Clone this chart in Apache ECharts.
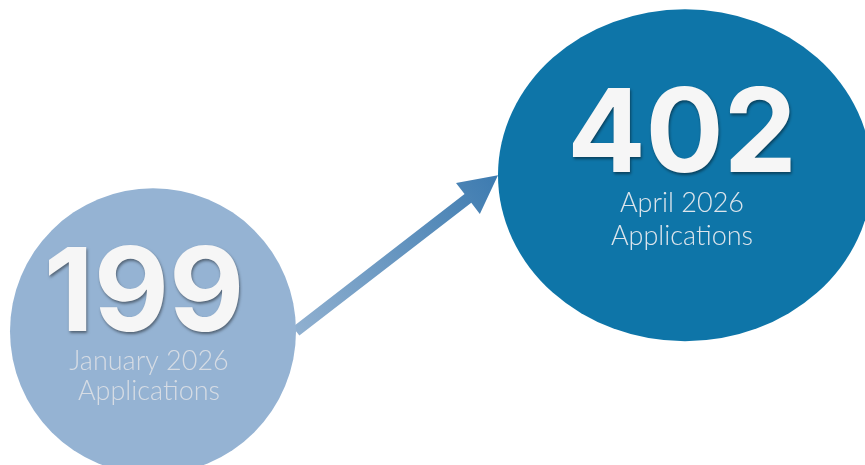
<!DOCTYPE html>
<html>
<head>
<meta charset="utf-8">
<script src="https://cdn.jsdelivr.net/npm/echarts@6/dist/echarts.min.js"></script>
<style>html,body{margin:0;padding:0;background:#fff;}#c{width:865px;height:465px;}</style>
</head>
<body>
<div id="c"></div>
<script>
// ---- data ----
const periods = ['January 2026', 'April 2026'];
const applications = [199, 402];
const caption = 'Applications';

// ---- styles ----
const bubbleSizes = [[286, 286], [374, 332]];
const bubbleColors = ['#95b3d3', '#0e75a8'];
const captionColors = ['#d6dce4', '#dde5ec'];
const labelOffsets = [[-4, -5], [-3, -5]];
const numPadding = [[0, 10, 0, 0], [0, 0, 0, 0]];
const captionLH = [30, 33];

const chart = echarts.init(document.getElementById('c'), null, {renderer: 'canvas'});

const points = applications.map((v, i) => ({
  value: [i, v],
  symbolSize: bubbleSizes[i],
  itemStyle: {color: bubbleColors[i], opacity: 1},
  label: {
    offset: labelOffsets[i],
    rich: {
      num: {
        fontFamily: 'Inter', fontWeight: 'bold', fontSize: 116, lineHeight: 100,
        padding: numPadding[i],
        color: '#f6f6f6',
        textShadowColor: 'rgba(0,0,0,0.45)', textShadowBlur: 3,
        textShadowOffsetX: 1, textShadowOffsetY: 2
      },
      cap: {
        fontFamily: 'Lato', fontWeight: 300, fontSize: 27, lineHeight: captionLH[i],
        color: captionColors[i]
      }
    }
  }
}));

chart.setOption({
  animation: false,
  grid: {left: 153, right: 180, top: 0, bottom: 0},
  xAxis: {type: 'value', min: 0, max: 1, show: false},
  yAxis: {type: 'value', min: 25, max: 630, show: false},
  series: [
    {
      type: 'custom',
      z: 1,
      silent: true,
      data: [[0, applications[0], 1, applications[1]]],
      renderItem: function (params, api) {
        const a = api.coord([api.value(0), api.value(1)]);
        const b = api.coord([api.value(2), api.value(3)]);
        const tail = [a[0] + bubbleSizes[0][0] / 2, a[1]];
        const tip = [b[0] - bubbleSizes[1][0] / 2, b[1]];
        const dx = tip[0] - tail[0], dy = tip[1] - tail[1];
        const len = Math.sqrt(dx * dx + dy * dy);
        const ux = dx / len, uy = dy / len;
        const px = -uy, py = ux;
        const sw = 5.5, hw = 19.5, hl = 38;
        const base = [tip[0] - ux * hl, tip[1] - uy * hl];
        const pts = [
          [tail[0] + px * sw, tail[1] + py * sw],
          [base[0] + px * sw, base[1] + py * sw],
          [base[0] + px * hw, base[1] + py * hw],
          tip,
          [base[0] - px * hw, base[1] - py * hw],
          [base[0] - px * sw, base[1] - py * sw],
          [tail[0] - px * sw, tail[1] - py * sw]
        ];
        return {
          type: 'polygon',
          shape: {points: pts},
          style: {
            fill: {
              type: 'linear', global: true,
              x: tail[0], y: tail[1], x2: tip[0], y2: tip[1],
              colorStops: [{offset: 0, color: '#90b0d0'}, {offset: 1, color: '#3d7bb0'}]
            }
          }
        };
      }
    },
    {
      type: 'scatter',
      z: 2,
      silent: true,
      symbol: 'circle',
      emphasis: {disabled: true},
      data: points,
      label: {
        show: true,
        position: 'inside',
        align: 'center',
        verticalAlign: 'middle',
        formatter: function (p) {
          return '{num|' + applications[p.dataIndex] + '}\n{cap|' + periods[p.dataIndex] + '}\n{cap|' + caption + '}';
        }
      }
    }
  ]
});
</script>
</body>
</html>
